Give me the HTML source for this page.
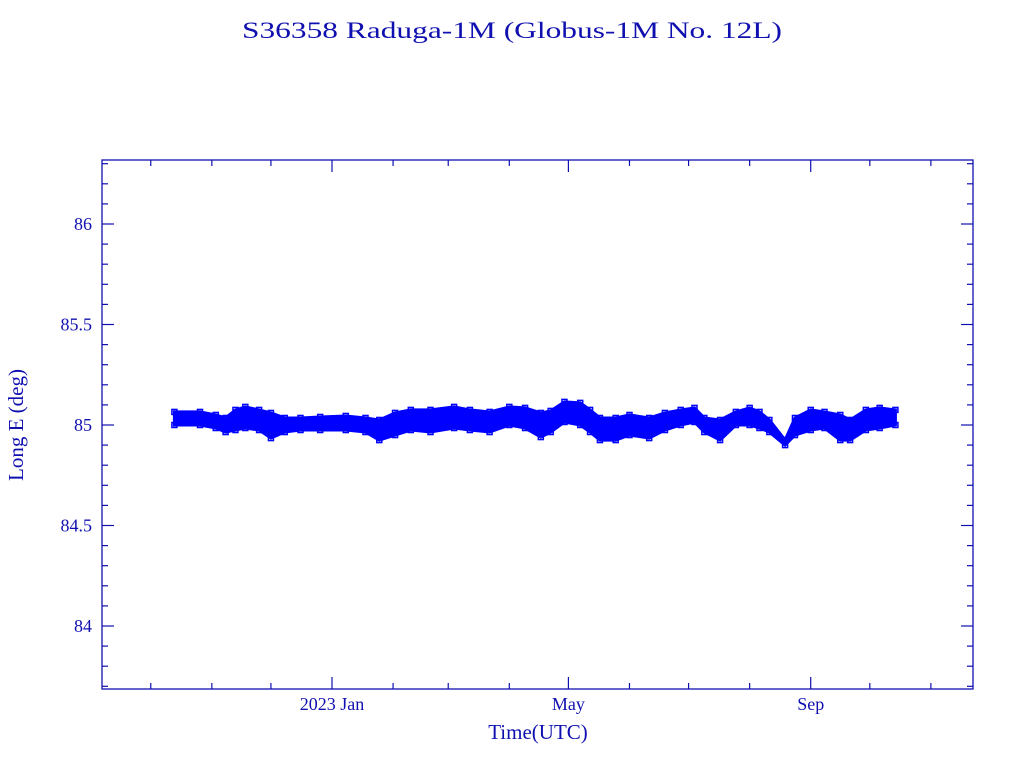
<!DOCTYPE html>
<html><head><meta charset="utf-8"><style>
html,body{margin:0;padding:0;background:#fff;}
svg{display:block;}
text{font-family:"Liberation Serif",serif;fill:#1010b0;}
</style></head><body>
<svg id="chart" width="1024" height="768" xmlns="http://www.w3.org/2000/svg">
<text x="512" y="38" font-size="23" text-anchor="middle" textLength="540" lengthAdjust="spacingAndGlyphs">S36358 Raduga-1M  (Globus-1M No. 12L)</text>
<rect x="102" y="160" width="871" height="529" fill="none" stroke="#1010b0" stroke-width="1.3"/>
<g id="ticks"></g>
<g id="series"></g>
<text transform="translate(23,425) rotate(-90)" font-size="21" text-anchor="middle">Long E (deg)</text>
<text x="538" y="739" font-size="21" text-anchor="middle">Time(UTC)</text>
</svg>
<script>
// days since 2023-01-01
const days = [-80,-67,-59,-54,-49,-44,-37,-31,-24,-16,-6,7,17,24,32,40,50,62,70,80,90,98,106,111,118,126,131,136,144,151,161,169,177,184,189,197,205,212,217,222,230,235,243,250,258,263,271,278,286];
const upper = [85.065,85.065,85.05,85.035,85.075,85.09,85.075,85.06,85.035,85.035,85.04,85.045,85.035,85.025,85.06,85.075,85.075,85.09,85.075,85.065,85.09,85.085,85.06,85.07,85.115,85.11,85.075,85.035,85.035,85.05,85.035,85.06,85.075,85.085,85.035,85.025,85.065,85.085,85.065,85.025,84.925,85.035,85.075,85.065,85.05,85.025,85.075,85.085,85.075];
const lower = [85.0,85.0,84.985,84.965,84.975,84.985,84.975,84.935,84.965,84.975,84.975,84.975,84.965,84.925,84.95,84.975,84.965,84.985,84.975,84.965,85.0,84.985,84.94,84.965,85.015,85.0,84.965,84.925,84.925,84.95,84.935,84.975,85.0,85.015,84.965,84.925,85.0,85.0,84.985,84.965,84.9,84.95,84.975,84.985,84.925,84.925,84.975,84.985,85.0];
const yTicks = [84,84.5,85,85.5,86];
const yTickLabels = ["84","84.5","85","85.5","86"];
const monthDays = [-92,-61,-31,0,31,59,90,120,151,181,212,243,273,304];
const majorDays = [0,120,243];
const majorLabels = ["2023 Jan","May","Sep"];

const NS="http://www.w3.org/2000/svg";
const L=102,R=973,T=160,B=689;
const X=d=>332+d*1.97;
const Y=v=>425-(v-85)*201;
function el(tag,attrs,parent){const e=document.createElementNS(NS,tag);for(const k in attrs)e.setAttribute(k,attrs[k]);parent.appendChild(e);return e;}
const tk=document.getElementById('ticks'), sr=document.getElementById('series');
const col="#1010b0";
for(let i=Math.round(83.7*10);i<=Math.round(86.3*10);i++){
  const v=i/10,y=Y(v);if(y<T||y>B)continue;
  const major=(i%5===0), len=major?12:6;
  const a=el('line',{x1:L,x2:L+len,y1:y,y2:y,stroke:col,'stroke-width':1.2},tk);
  
  
  const b=el('line',{x1:R-len,x2:R,y1:y,y2:y,stroke:col,'stroke-width':1.2},tk);
  
  
}
yTicks.forEach((v,i)=>{
  const t=el('text',{x:L-10,y:Y(v)+6,'font-size':18,'text-anchor':'end'},tk);
  t.textContent=yTickLabels[i];
  
  
});
monthDays.forEach(d=>{
  const x=X(d),major=majorDays.includes(d),len=major?12:6;
  const a=el('line',{x1:x,x2:x,y1:B,y2:B-len,stroke:col,'stroke-width':1.2},tk);
  
  
  const b=el('line',{x1:x,x2:x,y1:T,y2:T+len,stroke:col,'stroke-width':1.2},tk);
  
  
});
majorDays.forEach((d,i)=>{
  const t=el('text',{x:X(d),y:710,'font-size':18,'text-anchor':'middle'},tk);
  t.textContent=majorLabels[i];
  
  
});
let pts=days.map((d,i)=>X(d)+','+Y(upper[i]));
for(let i=days.length-1;i>=0;i--)pts.push(X(days[i])+','+Y(lower[i]));
const band=el('polygon',{points:pts.join(' '),fill:'#0000ff',stroke:'#0000ff','stroke-width':3},sr);


let zz=[];days.forEach((d,i)=>{zz.push(X(d)+','+Y(upper[i]));zz.push(X(d)+','+Y(lower[i]));});
const line=el('polyline',{points:zz.join(' '),fill:'none',stroke:'#0000ff','stroke-width':1},sr);


days.forEach((d,i)=>{
  [upper[i],lower[i]].forEach(v=>{
    const r=el('rect',{x:X(d)-2.5,y:Y(v)-2.5,width:5,height:5,fill:'none',stroke:'#0000ff','stroke-width':1.5},sr);
    
    
  });
});
</script>
</body></html>
